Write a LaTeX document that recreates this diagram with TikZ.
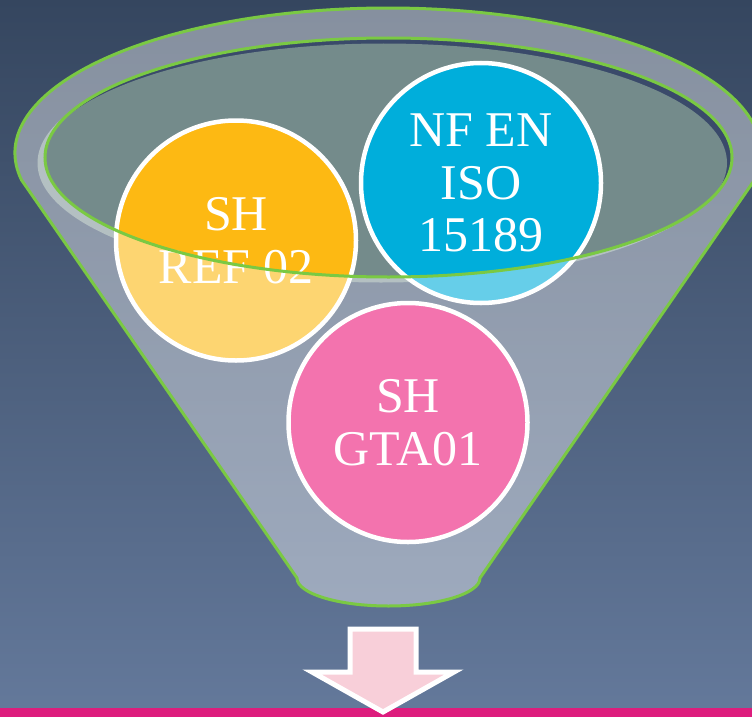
\documentclass[tikz,border=0pt]{standalone}
\usepackage{fontspec}
\setmainfont{Liberation Serif}
\definecolor{bgtop}{HTML}{35465F}
\definecolor{bgbot}{HTML}{64799B}
\definecolor{fgreen}{HTML}{7AC943}
\definecolor{mouthfill}{HTML}{748B8B}
\definecolor{mouthdark}{HTML}{3A4A6A}
\definecolor{rim}{HTML}{82969A}
\definecolor{corange}{HTML}{FDB913}
\definecolor{cblue}{HTML}{00AEDB}
\definecolor{cpink}{HTML}{EB1678}
\definecolor{arrowpink}{HTML}{F8CFD9}
\definecolor{barpink}{HTML}{DD1C7D}
\begin{document}
\begin{tikzpicture}[x=1pt,y=-1pt,
  ball/.style={circle, draw=white, line width=4.5pt, minimum size=240pt, inner sep=0pt,
    text=white, align=center, font=\fontsize{50}{52.5}\selectfont},
  outline/.style={draw=fgreen, line width=3pt},
  funnelpath/.style={insert path={(388,153) ++(169.3:373 and 145)
      arc[start angle=169.3, end angle=370.7, x radius=373, y radius=145]
      -- (480,578) arc[start angle=0, end angle=180, x radius=91.5, y radius=28] -- cycle}},
  mouth/.style={insert path={(388.5,157.5) ellipse [x radius=343.5, y radius=119.5]}}]
\useasboundingbox (0,0) rectangle (752,717);
\clip (0,0) rectangle (752,717);
\shade[top color=bgtop, bottom color=bgbot] (0,0) rectangle (752,717);

% light rim below the mouth
\fill[rim] (381,163) ellipse [x radius=343.5, y radius=119.5];
% mouth of the funnel
\fill[mouthdark, mouth];
\begin{scope}
  \clip[mouth];
  \fill[mouthfill] (383.5,163) ellipse [x radius=343.5, y radius=119.5];
\end{scope}

% circles
\node[ball, fill=corange] (ref) at (236,240.5) {SH\\REF 02};
\node[ball, fill=cblue] (iso) at (481,183) {NF EN\\ISO\\15189};
\node[ball, fill=cpink, minimum size=239pt] (gta) at (408,422.5) {SH\\GTA01};

% translucent funnel body
\fill[white, fill opacity=0.4, even odd rule, funnelpath, mouth];

% outlines
\draw[outline, funnelpath];
\draw[outline, mouth];

% bottom bar and arrow
\fill[barpink] (0,708) rectangle (752,717);
\draw[white, line width=5pt, fill=arrowpink, line join=miter]
  (350,629) -- (416,629) -- (416,672) -- (454,672) -- (383,712) -- (312,672) -- (350,672) -- cycle;
\end{tikzpicture}
\end{document}
